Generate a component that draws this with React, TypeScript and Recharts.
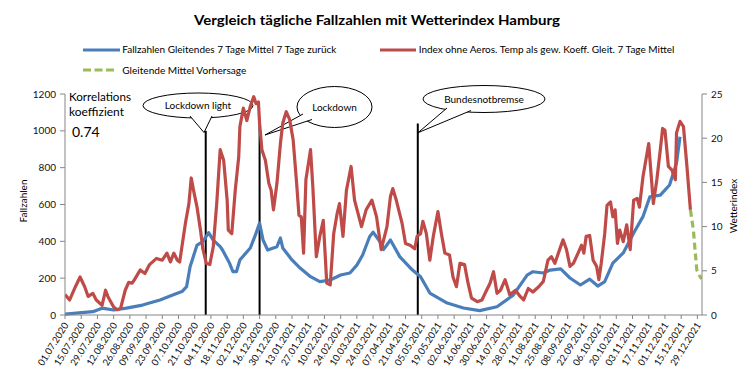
import React from 'react';
import { LineChart, Line, XAxis, YAxis, ReferenceLine } from 'recharts';

const xTickLabels = [
  '01.07.2020','15.07.2020','29.07.2020','12.08.2020','26.08.2020','09.09.2020','23.09.2020','07.10.2020',
  '21.10.2020','04.11.2020','18.11.2020','02.12.2020','16.12.2020','30.12.2020','13.01.2021','27.01.2021',
  '10.02.2021','24.02.2021','10.03.2021','24.03.2021','07.04.2021','21.04.2021','05.05.2021','19.05.2021',
  '02.06.2021','16.06.2021','30.06.2021','14.07.2021','28.07.2021','11.08.2021','25.08.2021','08.09.2021',
  '22.09.2021','06.10.2021','20.10.2021','03.11.2021','17.11.2021','01.12.2021','15.12.2021','29.12.2021'
];
const leftTicks = [0, 200, 400, 600, 800, 1000, 1200];
const rightTicks = [0, 5, 10, 15, 20, 25];

// days since 01.07.2020
const blueDays = [0,24,32,42,53,67,82,93,101,105,108,114,119,124,128,134,136,142,145,148,151,160,165,168,171,175,183,186,188,196,203,212,220,229,238,246,252,257,263,266,272,275,281,289,300,307,315,330,344,358,373,387,399,404,413,419,428,436,445,453,460,466,473,482,491,499,505,514,522,528,531];
const blueValues = [5,18,37,27,37,54,81,108,127,154,262,380,398,447,407,371,353,282,235,235,299,364,445,499,407,353,371,418,364,299,255,208,181,190,217,228,271,326,425,450,398,355,407,317,244,208,119,65,38,24,45,108,217,235,228,244,250,201,163,195,157,181,282,337,445,534,642,651,706,825,968];

const redDays = [0,4,9,13,17,20,24,27,32,35,37,42,45,48,52,55,58,60,65,69,73,79,84,88,91,94,97,99,104,107,109,111,114,117,119,122,125,128,131,134,137,140,141,144,147,150,151,154,157,160,163,165,167,168,170,173,176,178,180,183,186,188,191,194,197,200,202,204,206,208,212,214,217,220,223,226,229,232,235,237,240,243,247,250,253,256,260,265,269,273,278,281,283,286,291,294,298,302,304,307,309,312,315,318,322,325,328,332,335,338,341,345,348,351,356,360,364,367,370,373,376,380,384,389,393,396,400,404,409,413,417,420,423,426,430,433,436,439,443,446,448,450,453,456,459,461,463,466,468,471,473,475,477,479,482,485,488,491,494,496,499,504,506,508,511,514,516,518,521,524,527,528,531,534,537,540];
const redValues = [2.3,1.7,3.2,4.3,3.2,2.1,2.45,1.7,1.1,2.8,2.1,0.9,0.6,0.75,2.8,3.7,3.6,4.0,5.1,4.7,5.7,6.4,6.2,7.0,6.0,7.0,6.2,6.0,10.4,12.6,15.5,14.1,12.2,9.6,7.5,5.85,5.7,7.7,12.6,18.7,17.5,13,9.6,9.2,14.1,17.9,21.3,23.4,22,23.6,24.7,23.9,24.1,21.7,18.7,17.5,14.9,14.1,11.9,14.9,19.4,21.7,23.0,22.1,19.8,14.9,11.3,11.1,7.0,15.3,18.7,14.5,6.6,8.9,10.7,3.6,3.4,9.2,11.5,12.6,8.9,14.1,16.8,13,11.5,10,11.9,13,11.1,7.4,10,13.4,14.3,13,10.4,8.1,7.9,7.5,8.9,9.2,10.6,9.2,6.2,8.9,11.7,9.2,7.0,6.8,4.3,3.2,5.85,5.7,3.6,1.9,1.5,1.7,2.8,3.6,4.9,2.45,2.8,4.0,2.3,2.8,2.1,1.7,3.0,2.6,3.2,3.8,6.2,6.6,5.85,7.0,8.5,7.4,5.5,5.85,7.0,7.9,7.0,8.9,9.0,6.2,5.5,4.0,5.85,9.2,12.4,12.8,11.1,11.9,8.1,9.6,8.3,10.2,7.4,13,13.2,12.2,15.6,19.4,16,12.6,15.3,18.7,21.1,20.9,16.8,16.4,15.3,20.6,21.9,21.3,16.8,11.9];

const greenDays = [540, 542.6, 544, 545.5, 548.4, 549.7];
const greenValues = [11.9, 9.6, 7.35, 5.1, 4.3, 4.1];

const eventDays = [121.5, 168, 304.6];
const eventTops = [1000, 1040, 1040];

const blueData = blueDays.map((d, i) => ({ day: d, v: blueValues[i] }));
const redData = redDays.map((d, i) => ({ day: d, v: redValues[i] }));
const greenData = greenDays.map((d, i) => ({ day: d, v: greenValues[i] }));

const FONT = 'Lato, "Open Sans", sans-serif';
const AXIS = '#868686';

const XTick = (props: any) => {
  const { x, y, payload } = props;
  const label = xTickLabels[Math.round(payload.value / 14)];
  return (
    <g transform={`translate(${x + 4},${y + 4})`}>
      <text textAnchor="end" transform="rotate(-58)" fontSize={9.6} fill="#111" fontFamily={FONT}>{label}</text>
    </g>
  );
};

function Callout({ cx, cy, rx, ry, b1, b2, tip, text }: any) {
  return (
    <g>
      <ellipse cx={cx} cy={cy} rx={rx} ry={ry} fill="#fff" stroke="#000" strokeWidth={1} />
      <path d={`M${b1[0]},${b1[1]} L${tip[0]},${tip[1]} L${b2[0]},${b2[1]}`} fill="#fff" stroke="#000" strokeWidth={1} />
      <text x={cx} y={cy + 3.5} textAnchor="middle" fontSize={10} fontFamily={FONT} fill="#000">{text}</text>
    </g>
  );
}

export default function App() {
  return (
    <div style={{ position: 'absolute', left: 0, top: 0, width: 756, height: 379, background: '#fff', fontFamily: FONT }}>
      <svg width={756} height={379} style={{ position: 'absolute', left: 0, top: 0 }}>
        <text x={377} y={25} textAnchor="middle" fontSize={14} fontWeight="bold" fontFamily={FONT} fill="#000" textLength={366} lengthAdjust="spacingAndGlyphs">Vergleich tägliche Fallzahlen mit  Wetterindex Hamburg</text>
        <line x1={83} y1={50} x2={120} y2={50} stroke="#4A7EBB" strokeWidth={3} />
        <text x={122.3} y={53.3} fontSize={10} fontFamily={FONT} fill="#000" textLength={214} lengthAdjust="spacingAndGlyphs">Fallzahlen Gleitendes 7 Tage Mittel 7 Tage zurück</text>
        <line x1={380} y1={50} x2={416} y2={50} stroke="#BE4B48" strokeWidth={3} />
        <text x={418.7} y={53.3} fontSize={10} fontFamily={FONT} fill="#000" textLength={255.7} lengthAdjust="spacingAndGlyphs">Index ohne Aeros. Temp als gew. Koeff. Gleit. 7 Tage Mittel</text>
        <line x1={83} y1={70} x2={116} y2={70} stroke="#9BBB59" strokeWidth={3} strokeDasharray="8 3.5" />
        <text x={122.3} y={73.7} fontSize={10} fontFamily={FONT} fill="#000" textLength={124} lengthAdjust="spacingAndGlyphs">Gleitende Mittel Vorhersage</text>

        <Callout cx={198} cy={105.5} rx={55} ry={12.5} b1={[190, 116]} b2={[212, 116]} tip={[204, 132.5]} text="Lockdown light" />
        <Callout cx={334.5} cy={107} rx={37.5} ry={20.5} b1={[303, 114]} b2={[312, 119.5]} tip={[265, 135]} text="Lockdown" />
        <Callout cx={484} cy={99} rx={61} ry={13.5} b1={[447, 108]} b2={[471, 110.5]} tip={[418, 132.7]} text="Bundesnotbremse" />

        <text x={69} y={101} fontSize={12} fontFamily={FONT} fill="#000" textLength={62} lengthAdjust="spacingAndGlyphs">Korrelations</text>
        <text x={69} y={115.5} fontSize={12} fontFamily={FONT} fill="#000" textLength={55} lengthAdjust="spacingAndGlyphs">koeffizient</text>
        <text x={72} y={137} fontSize={14} fontFamily={FONT} fill="#000">0.74</text>

        <text transform="translate(27,201) rotate(-90)" textAnchor="middle" fontSize={10} fontFamily={FONT} fill="#000">Fallzahlen</text>
        <text transform="translate(737,206) rotate(-90)" textAnchor="middle" fontSize={10} fontFamily={FONT} fill="#000">Wetterindex</text>
      </svg>
      <div style={{ position: 'absolute', left: 0, top: 0 }}>
        <LineChart width={756} height={379} margin={{ top: 94, right: 0, bottom: 0, left: 0 }}>
          <XAxis
            type="number"
            dataKey="day"
            domain={[0, 550]}
            allowDataOverflow
            ticks={xTickLabels.map((_, i) => i * 14)}
            interval={0}
            height={64}
            tick={<XTick />}
            tickSize={4}
            tickMargin={2}
            axisLine={{ stroke: AXIS }}
            tickLine={{ stroke: AXIS }}
          />
          <YAxis
            yAxisId="left"
            domain={[0, 1200]}
            ticks={leftTicks}
            width={65}
            tickSize={5}
            tickMargin={4}
            tick={{ fontSize: 10, fill: '#111', fontFamily: FONT }}
            axisLine={{ stroke: AXIS }}
            tickLine={{ stroke: AXIS }}
          />
          <YAxis
            yAxisId="right"
            orientation="right"
            domain={[0, 25]}
            ticks={rightTicks}
            width={54}
            tickSize={5}
            tickMargin={4}
            tick={{ fontSize: 10, fill: '#111', fontFamily: FONT }}
            axisLine={{ stroke: AXIS }}
            tickLine={{ stroke: AXIS }}
          />
          {eventDays.map((d, i) => (
            <ReferenceLine key={i} yAxisId="left" segment={[{ x: d, y: 0 }, { x: d, y: eventTops[i] }]} stroke="#000" strokeWidth={2} />
          ))}
          <Line yAxisId="left" data={blueData} dataKey="v" type="linear" stroke="#4A7EBB" strokeWidth={3.2} dot={false} isAnimationActive={false} strokeLinejoin="round" />
          <Line yAxisId="right" data={redData} dataKey="v" type="linear" stroke="#BE4B48" strokeWidth={3.2} dot={false} isAnimationActive={false} strokeLinejoin="round" />
          <Line yAxisId="right" data={greenData} dataKey="v" type="linear" stroke="#9BBB59" strokeWidth={3.2} strokeDasharray="7 4" dot={false} isAnimationActive={false} />
        </LineChart>
      </div>
    </div>
  );
}
